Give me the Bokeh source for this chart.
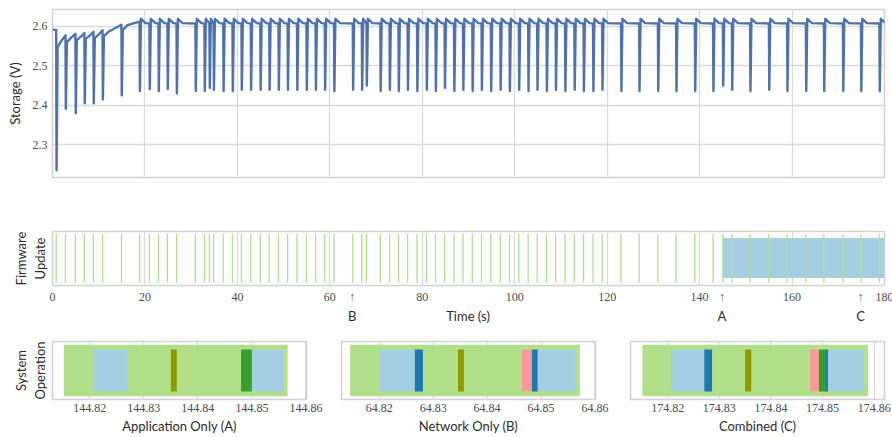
from bokeh.plotting import figure
from bokeh.models import Range1d, FixedTicker, LinearAxis, PrintfTickFormatter
from bokeh.layouts import column, row
from bokeh.embed import file_html
from bokeh.resources import INLINE

# ---------------- data ----------------
# times (s) of the radio / update events (dips in storage voltage)
event_t = [0.80, 2.81, 4.96, 6.90, 8.85, 10.82, 14.91, 18.83, 20.97, 22.92,
           24.86, 26.83, 30.92, 32.87, 33.95, 34.84, 36.94, 38.93, 40.88, 42.89,
           44.95, 46.89, 48.89, 50.86, 52.89, 54.94, 56.91, 58.90, 60.90, 64.96,
           66.91, 67.93, 70.92, 72.91, 74.85, 76.82, 78.86, 80.91, 82.86, 84.83,
           86.86, 88.81, 90.82, 92.82, 94.83, 96.88, 98.87, 100.89, 102.90, 104.85,
           106.88, 108.85, 110.88, 112.90, 114.89, 116.94, 118.91, 123.00, 126.92, 130.97,
           134.91, 138.97, 142.91, 145.03, 146.98, 150.92, 154.99, 158.93, 162.99, 166.89,
           171.00, 174.90, 178.90]
# minimum storage voltage at each dip
dip_v = [2.235, 2.391, 2.380, 2.405, 2.405, 2.415, 2.425, 2.436, 2.441, 2.436,
         2.441, 2.430, 2.436, 2.436, 2.444, 2.439, 2.436, 2.436, 2.439, 2.439,
         2.439, 2.439, 2.439, 2.439, 2.439, 2.439, 2.439, 2.439, 2.436, 2.439,
         2.439, 2.450, 2.436, 2.439, 2.436, 2.439, 2.436, 2.439, 2.436, 2.444,
         2.436, 2.439, 2.436, 2.439, 2.436, 2.439, 2.436, 2.439, 2.436, 2.439,
         2.436, 2.439, 2.436, 2.439, 2.436, 2.436, 2.439, 2.436, 2.436, 2.436,
         2.436, 2.436, 2.436, 2.450, 2.439, 2.436, 2.439, 2.436, 2.436, 2.436,
         2.436, 2.436, 2.436]
# voltage just before each dip
pre_v = [2.591, 2.577, 2.581, 2.583, 2.586, 2.590, 2.604, 2.612, 2.607, 2.607,
         2.607, 2.607, 2.607, 2.607, 2.607, 2.607, 2.607, 2.607, 2.607, 2.607,
         2.607, 2.607, 2.607, 2.607, 2.607, 2.607, 2.607, 2.607, 2.607, 2.607,
         2.607, 2.607, 2.607, 2.607, 2.607, 2.607, 2.607, 2.607, 2.607, 2.607,
         2.607, 2.607, 2.607, 2.607, 2.607, 2.607, 2.607, 2.607, 2.607, 2.607,
         2.607, 2.607, 2.607, 2.607, 2.607, 2.607, 2.607, 2.607, 2.607, 2.607,
         2.607, 2.607, 2.607, 2.607, 2.607, 2.607, 2.607, 2.607, 2.607, 2.607,
         2.607, 2.607, 2.607]
# voltage reached right after recovering from each dip
rec_v = [2.548, 2.560, 2.565, 2.568, 2.570, 2.575, 2.590, 2.619, 2.619, 2.619,
         2.619, 2.619, 2.619, 2.619, 2.619, 2.619, 2.619, 2.619, 2.619, 2.619,
         2.619, 2.619, 2.619, 2.619, 2.619, 2.619, 2.619, 2.619, 2.619, 2.619,
         2.619, 2.619, 2.619, 2.619, 2.619, 2.619, 2.619, 2.619, 2.619, 2.619,
         2.619, 2.619, 2.619, 2.619, 2.619, 2.619, 2.619, 2.619, 2.619, 2.619,
         2.619, 2.619, 2.619, 2.619, 2.619, 2.619, 2.619, 2.619, 2.619, 2.619,
         2.619, 2.619, 2.619, 2.619, 2.619, 2.619, 2.619, 2.619, 2.619, 2.619,
         2.619, 2.619, 2.619]
# voltage about a second and a half after each dip
settle_v = [2.566, 2.572, 2.575, 2.578, 2.581, 2.586, 2.603, 2.608, 2.608, 2.608,
            2.608, 2.608, 2.608, 2.608, 2.608, 2.608, 2.608, 2.608, 2.608, 2.608,
            2.608, 2.608, 2.608, 2.608, 2.608, 2.608, 2.608, 2.608, 2.608, 2.608,
            2.608, 2.608, 2.608, 2.608, 2.608, 2.608, 2.608, 2.608, 2.608, 2.608,
            2.608, 2.608, 2.608, 2.608, 2.608, 2.608, 2.608, 2.608, 2.608, 2.608,
            2.608, 2.608, 2.608, 2.608, 2.608, 2.608, 2.608, 2.608, 2.608, 2.608,
            2.608, 2.608, 2.608, 2.608, 2.608, 2.608, 2.608, 2.608, 2.608, 2.608,
            2.608, 2.608, 2.608]
start_v = 2.591

time_ticks = [0, 20, 40, 60, 80, 100, 120, 140, 160, 180]
volt_ticks = [2.3, 2.4, 2.5, 2.6]
fw_start = 145.05
fw_end = 180.0
mark_names = ["B", "A", "C"]
mark_t = [64.82, 144.82, 174.82]
time_label = "Time (s)"
time_label_t = 89.9

zoom_titles = ["Application Only (A)", "Network Only (B)", "Combined (C)"]
zoom_ticks = [[144.82, 144.83, 144.84, 144.85, 144.86],
              [64.82, 64.83, 64.84, 64.85, 64.86],
              [174.82, 174.83, 174.84, 174.85, 174.86]]
zoom_lo = [144.8131, 64.8130, 174.8128]
zoom_hi = [144.8601, 64.8601, 174.8620]

segA_start = [144.8152, 144.8207, 144.8350, 144.8480, 144.8500]
segA_end = [144.8566, 144.8270, 144.8361, 144.8500, 144.8559]
segA_kind = ["lgreen", "lblue", "olive", "dgreen", "lblue"]

segB_start = [64.8146, 64.8201, 64.8266, 64.8346, 64.8464, 64.8483, 64.8494]
segB_end = [64.8572, 64.8266, 64.8281, 64.8357, 64.8483, 64.8494, 64.8564]
segB_kind = ["lgreen", "lblue", "dblue", "olive", "pink", "dblue", "lblue"]

segC_start = [174.8151, 174.8207, 174.8271, 174.8350, 174.8476, 174.8493, 174.8505, 174.8511]
segC_end = [174.8588, 174.8271, 174.8286, 174.8362, 174.8493, 174.8505, 174.8511, 174.8580]
segC_kind = ["lgreen", "lblue", "dblue", "olive", "pink", "dgreen", "dblue", "lblue"]

# ---------------- styles ----------------
LINE = "#4c72b0"
GRID = "#dadada"
OUTLINE = "#d2d2d2"
KIND_COLOR = {"lgreen": "#b2df8a", "lblue": "#a6cee3", "dblue": "#1f78b4",
              "olive": "#929900", "dgreen": "#33a02c", "pink": "#fb9a99"}
TICK_FONT = "Liberation Serif"
LABEL_FONT = "Lato"


def style_axis(ax, tick_font=TICK_FONT, tick_size="12px", tick_color="#4a4a4a"):
    ax.axis_line_color = None
    ax.major_tick_line_color = None
    ax.minor_tick_line_color = None
    ax.major_tick_out = 0
    ax.major_tick_in = 0
    ax.major_label_text_font = tick_font
    ax.major_label_text_font_size = tick_size
    ax.major_label_text_color = tick_color
    ax.axis_label_text_font = LABEL_FONT
    ax.axis_label_text_font_size = "13px"
    ax.axis_label_text_font_style = "normal"
    ax.axis_label_text_color = "#2b2b2b"


def style(p):
    p.outline_line_color = OUTLINE
    p.outline_line_width = 1.6
    p.background_fill_color = "white"
    p.border_fill_color = "white"
    for ax in p.axis:
        style_axis(ax)
    for g in p.grid:
        g.grid_line_color = GRID
        g.grid_line_width = 1.3


def label_axis(text, standoff):
    ax = LinearAxis(axis_label=text, ticker=FixedTicker(ticks=[]))
    style_axis(ax)
    ax.axis_label_standoff = standoff
    ax.major_label_standoff = 0
    return ax


xr = Range1d(0, 180)

# ---------------- top: storage voltage ----------------
xs = [0.0]
ys = [start_v]
n = len(event_t)
for i in range(n):
    t = event_t[i]
    xs += [t, t + 0.08, t + 0.3]
    ys += [pre_v[i], dip_v[i], rec_v[i]]
    nxt = event_t[i + 1] if i + 1 < n else 181.0
    if nxt - t > 1.7:
        xs.append(t + 1.3)
        ys.append(settle_v[i])

p1 = figure(width=892, height=190, x_range=xr, y_range=Range1d(2.2169, 2.6425),
            output_backend="svg", toolbar_location=None,
            min_border_left=52, min_border_right=8, min_border_top=9, min_border_bottom=13)
p1.line(xs, ys, line_color=LINE, line_width=2.4, line_join="round")
p1.xaxis.visible = False
p1.xgrid.ticker = FixedTicker(ticks=time_ticks)
p1.yaxis.ticker = FixedTicker(ticks=volt_ticks)
p1.ygrid.ticker = FixedTicker(ticks=volt_ticks)
p1.yaxis.formatter = PrintfTickFormatter(format="%.1f")
p1.yaxis.axis_label = "Storage (V)"
style(p1)
p1.yaxis.major_label_standoff = 5
p1.yaxis.axis_label_standoff = 7

# ---------------- middle: firmware update ----------------
p2 = figure(width=892, height=136, x_range=xr, y_range=Range1d(0, 1),
            output_backend="svg", toolbar_location=None,
            min_border_left=52, min_border_right=8, min_border_top=41, min_border_bottom=38)
p2.quad(left=[fw_start], right=[fw_end], bottom=[0.14], top=[0.88],
        fill_color="#a6cee3", line_color=None)
p2.segment(x0=event_t, y0=[0.053] * n, x1=event_t, y1=[0.96] * n,
           line_color="#b2df8a", line_width=1.3)
# numbers plus the event arrows on the first axis row
p2.xaxis.ticker = FixedTicker(ticks=time_ticks + mark_t)
p2.xaxis.formatter = PrintfTickFormatter(format="%d")
p2.xaxis.major_label_overrides = {t: "\u2191" for t in mark_t}
p2.xgrid.ticker = FixedTicker(ticks=time_ticks)
p2.ygrid.visible = False
p2.yaxis.ticker = FixedTicker(ticks=[])
p2.yaxis.axis_label = "Update"
style(p2)
p2.add_layout(label_axis("Firmware", 0), "left")
p2.xaxis[0].major_label_standoff = 4
p2.yaxis[0].major_label_standoff = 0
p2.yaxis[0].axis_label_standoff = 5
# second row: event letters and the axis title
ax2 = LinearAxis(ticker=FixedTicker(ticks=mark_t + [time_label_t]))
ov = {t: nm for t, nm in zip(mark_t, mark_names)}
ov[time_label_t] = time_label
ax2.major_label_overrides = ov
style_axis(ax2, tick_font=LABEL_FONT, tick_size="13px", tick_color="#2b2b2b")
ax2.major_label_standoff = 1
p2.add_layout(ax2, "below")

# ---------------- bottom: system operation zooms ----------------
segs = [(segA_start, segA_end, segA_kind),
        (segB_start, segB_end, segB_kind),
        (segC_start, segC_end, segC_kind)]
widths = [324, 288, 280]
lefts = [52, 17, 18]
rights = [18, 17, 8]
bottom_figs = []
for k in range(3):
    s0, s1, kinds = segs[k]
    b = figure(width=widths[k], height=111, x_range=Range1d(zoom_lo[k], zoom_hi[k]),
               y_range=Range1d(0, 1), output_backend="svg", toolbar_location=None,
               min_border_left=lefts[k], min_border_right=rights[k],
               min_border_top=15, min_border_bottom=38)
    bottoms = [0.055 if kd == "lgreen" else 0.14 for kd in kinds]
    tops = [0.945 if kd == "lgreen" else 0.86 for kd in kinds]
    b.quad(left=s0, right=s1, bottom=bottoms, top=tops,
           fill_color=[KIND_COLOR[kd] for kd in kinds], line_color=None)
    b.xaxis.ticker = FixedTicker(ticks=zoom_ticks[k])
    b.xgrid.ticker = FixedTicker(ticks=zoom_ticks[k])
    b.xaxis.formatter = PrintfTickFormatter(format="%.2f")
    b.xaxis.axis_label = zoom_titles[k]
    b.ygrid.visible = False
    if k == 0:
        b.yaxis.ticker = FixedTicker(ticks=[])
        b.yaxis.axis_label = "Operation"
    else:
        b.yaxis.visible = False
    style(b)
    if k == 0:
        b.add_layout(label_axis("System", 0), "left")
        b.yaxis[0].major_label_standoff = 0
        b.yaxis[0].axis_label_standoff = 5
    b.xaxis.major_label_standoff = 4
    b.xaxis.axis_label_standoff = 3
    bottom_figs.append(b)

layout = column(p1, p2, row(*bottom_figs, spacing=0), spacing=0)
open("out.html", "w").write(file_html(layout, INLINE))
